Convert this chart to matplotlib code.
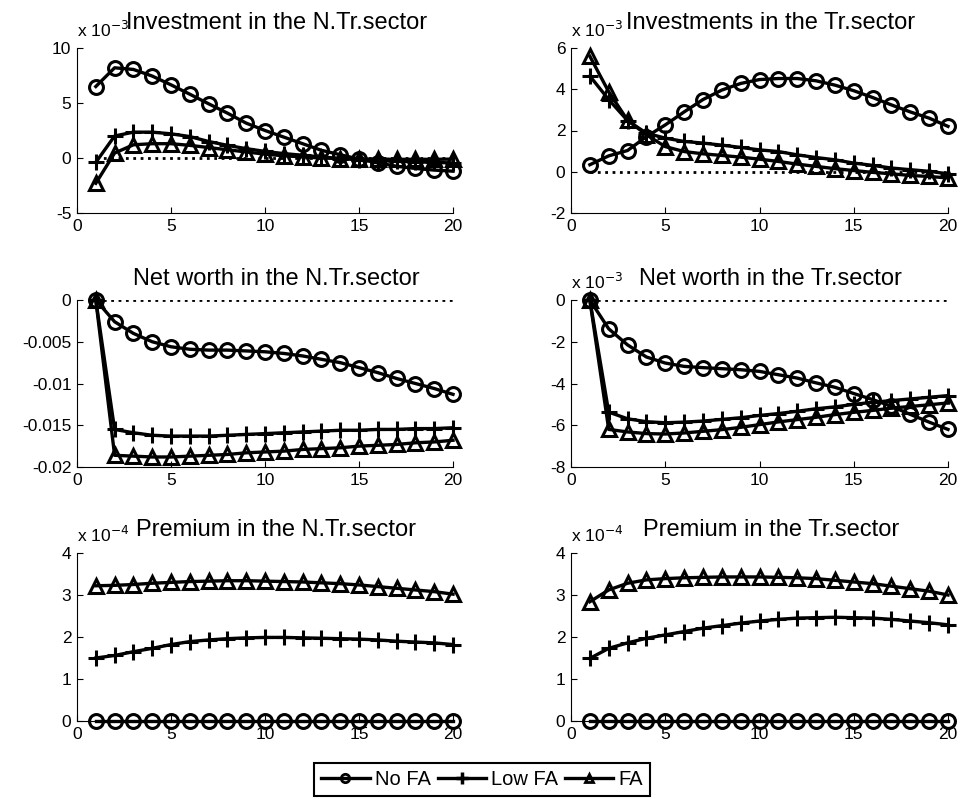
import numpy as np
import matplotlib
matplotlib.use("Agg")
import matplotlib.pyplot as plt
from matplotlib.lines import Line2D

plt.rcParams['font.family'] = ['Liberation Sans', 'DejaVu Sans']
plt.rcParams['axes.unicode_minus'] = False

# --- data ---
periods = np.arange(1, 21)

# Investment in the N.Tr.sector (x 1e-3)
inv_ntr_nofa = [6.5, 8.2, 8.05, 7.45, 6.65, 5.8, 4.93, 4.08, 3.17, 2.5, 1.9, 1.3, 0.7, 0.3, -0.1, -0.45, -0.75, -0.95, -1.1, -1.2]
inv_ntr_low = [-0.4, 2.0, 2.35, 2.35, 2.2, 1.95, 1.5, 1.15, 0.85, 0.6, 0.4, 0.25, 0.1, -0.05, -0.15, -0.25, -0.3, -0.35, -0.4, -0.45]
inv_ntr_fa = [-2.3, 0.45, 1.2, 1.3, 1.3, 1.15, 0.95, 0.75, 0.55, 0.35, 0.2, 0.1, 0.0, -0.05, -0.1, -0.1, -0.12, -0.12, -0.12, -0.1]

# Investments in the Tr.sector (x 1e-3)
inv_tr_nofa = [0.34, 0.77, 1.03, 1.7, 2.27, 2.9, 3.5, 3.96, 4.28, 4.47, 4.52, 4.52, 4.41, 4.2, 3.93, 3.6, 3.24, 2.9, 2.6, 2.2]
inv_tr_low = [4.64, 3.5, 2.48, 1.87, 1.63, 1.47, 1.39, 1.29, 1.18, 1.06, 0.98, 0.82, 0.69, 0.58, 0.42, 0.31, 0.18, 0.1, 0.02, -0.1]
inv_tr_fa = [5.6, 3.88, 2.5, 1.79, 1.22, 0.98, 0.87, 0.79, 0.71, 0.61, 0.5, 0.37, 0.26, 0.15, 0.06, -0.03, -0.1, -0.18, -0.23, -0.3]

# Net worth in the N.Tr.sector
nw_ntr_nofa = [0.0, -0.0026, -0.004, -0.005, -0.0056, -0.0059, -0.006, -0.006, -0.0061, -0.0062, -0.0064, -0.0067, -0.0071, -0.0075, -0.0081, -0.0087, -0.0094, -0.01, -0.0106, -0.0113]
nw_ntr_low = [0.0, -0.0155, -0.0159, -0.0162, -0.0163, -0.0163, -0.0163, -0.0162, -0.0161, -0.016, -0.0159, -0.0158, -0.0157, -0.0156, -0.0156, -0.0155, -0.0155, -0.0154, -0.0154, -0.0153]
nw_ntr_fa = [0.0, -0.0186, -0.0187, -0.0188, -0.0188, -0.0187, -0.0186, -0.0185, -0.0183, -0.0182, -0.0181, -0.0179, -0.0178, -0.0177, -0.0175, -0.0174, -0.0173, -0.0171, -0.017, -0.0168]

# Net worth in the Tr.sector (x 1e-3)
nw_tr_nofa = [0.0, -1.38, -2.15, -2.73, -3.02, -3.18, -3.24, -3.29, -3.34, -3.42, -3.58, -3.74, -3.97, -4.18, -4.48, -4.77, -5.09, -5.48, -5.85, -6.2]
nw_tr_low = [0.0, -5.37, -5.69, -5.83, -5.88, -5.85, -5.8, -5.72, -5.64, -5.53, -5.44, -5.33, -5.21, -5.12, -5.0, -4.9, -4.82, -4.74, -4.66, -4.58]
nw_tr_fa = [0.0, -6.2, -6.32, -6.4, -6.42, -6.37, -6.29, -6.21, -6.1, -5.97, -5.84, -5.73, -5.62, -5.49, -5.38, -5.29, -5.18, -5.1, -5.02, -4.93]

# Premium in the N.Tr.sector (x 1e-4)
pr_ntr_nofa = [0.0] * 20
pr_ntr_low = [1.5, 1.56, 1.65, 1.73, 1.82, 1.89, 1.93, 1.96, 1.98, 1.99, 1.99, 1.98, 1.97, 1.96, 1.95, 1.93, 1.9, 1.88, 1.86, 1.82]
pr_ntr_fa = [3.22, 3.23, 3.25, 3.28, 3.3, 3.32, 3.33, 3.34, 3.34, 3.33, 3.32, 3.31, 3.29, 3.27, 3.24, 3.2, 3.16, 3.12, 3.08, 3.02]

# Premium in the Tr.sector (x 1e-4)
pr_tr_nofa = [0.0] * 20
pr_tr_low = [1.49, 1.73, 1.86, 1.97, 2.05, 2.13, 2.21, 2.27, 2.33, 2.38, 2.42, 2.45, 2.46, 2.47, 2.46, 2.45, 2.42, 2.38, 2.34, 2.29]
pr_tr_fa = [2.84, 3.12, 3.28, 3.36, 3.39, 3.41, 3.42, 3.43, 3.43, 3.43, 3.42, 3.41, 3.39, 3.35, 3.31, 3.27, 3.21, 3.15, 3.09, 3.0]

titles = ['Investment in the N.Tr.sector', 'Investments in the Tr.sector',
          'Net worth in the N.Tr.sector', 'Net worth in the Tr.sector',
          'Premium in the N.Tr.sector', 'Premium in the Tr.sector']
series = [(inv_ntr_nofa, inv_ntr_low, inv_ntr_fa),
          (inv_tr_nofa, inv_tr_low, inv_tr_fa),
          (nw_ntr_nofa, nw_ntr_low, nw_ntr_fa),
          (nw_tr_nofa, nw_tr_low, nw_tr_fa),
          (pr_ntr_nofa, pr_ntr_low, pr_ntr_fa),
          (pr_tr_nofa, pr_tr_low, pr_tr_fa)]
multipliers = ['-3', '-3', None, '-3', '-4', '-4']
ylims = [(-5, 10), (-2, 6), (-0.02, 0), (-8, 0), (0, 4), (0, 4)]
yticks = [[-5, 0, 5, 10], [-2, 0, 2, 4, 6], [-0.02, -0.015, -0.01, -0.005, 0],
          [-8, -6, -4, -2, 0], [0, 1, 2, 3, 4], [0, 1, 2, 3, 4]]
ytick_labels = [None, None, ['-0.02', '-0.015', '-0.01', '-0.005', '0'], None, None, None]

# --- layout (pixel-based positions) ---
W, H = 964, 806
fig = plt.figure(figsize=(W / 100, H / 100), dpi=100)
cols = [(77, 453), (571, 948)]
rows = [(48, 213), (300, 467), (553, 721)]
title_pads = [14, 11, 12]

styles = [dict(marker='o', markersize=10),
          dict(marker='+', markersize=12),
          dict(marker='^', markersize=10)]

for i in range(6):
    r, c = divmod(i, 2)
    x0, x1 = cols[c]
    t, b = rows[r]
    ax = fig.add_axes([x0 / W, 1 - b / H, (x1 - x0) / W, (b - t) / H])

    # zero reference line
    ax.plot([1, 20], [0, 0], ':', color='black', lw=2)
    for data, st in zip(series[i], styles):
        ax.plot(periods, data, '-', color='black', lw=2.4,
                markerfacecolor='none', markeredgecolor='black',
                markeredgewidth=2.2, clip_on=False, **st)

    ax.set_xlim(0, 20)
    ax.set_ylim(*ylims[i])
    ax.set_xticks([0, 5, 10, 15, 20])
    ax.set_yticks(yticks[i])
    if ytick_labels[i] is not None:
        ax.set_yticklabels(ytick_labels[i])
    ax.spines['top'].set_visible(False)
    ax.spines['right'].set_visible(False)
    ax.tick_params(direction='in', length=4, labelsize=12.5, pad=4)
    ax.set_title(titles[i], fontsize=17, pad=title_pads[r], x=0.53)
    if multipliers[i]:
        ax.text(0.0, 1.065, r'x 10$^{%s}$' % multipliers[i], transform=ax.transAxes,
                ha='left', va='baseline', fontsize=12.5)

# --- legend ---
handles = [Line2D([], [], color='black', lw=2.4, marker='o', markersize=6,
                  markerfacecolor='none', markeredgewidth=2),
           Line2D([], [], color='black', lw=2.4, marker='+', markersize=9,
                  markeredgewidth=2.5),
           Line2D([], [], color='black', lw=2.4, marker='^', markersize=6,
                  markerfacecolor='none', markeredgewidth=2)]
leg = fig.legend(handles, ['No FA', 'Low FA', 'FA'], loc='lower center',
                 bbox_to_anchor=(0.5, 0.0), ncol=3, fontsize=14.5,
                 handlelength=2.4, handletextpad=0.25, columnspacing=0.35,
                 fancybox=False, edgecolor='black', framealpha=1,
                 borderpad=0.35)
leg.get_frame().set_linewidth(1.5)

fig.savefig('out.png', dpi=100)
